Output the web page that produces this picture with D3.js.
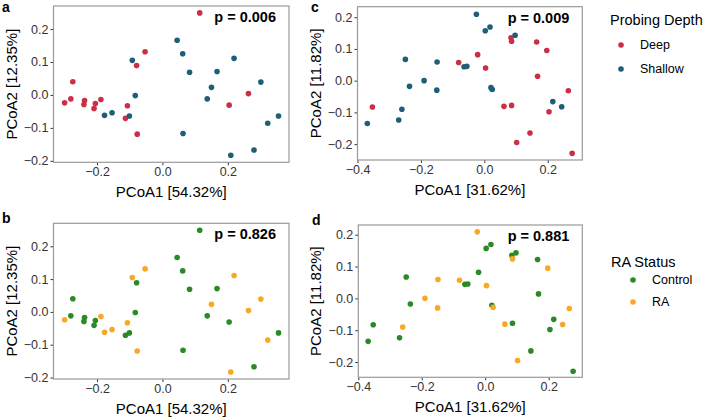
<!DOCTYPE html>
<html>
<head>
<meta charset="utf-8">
<script src="https://cdn.jsdelivr.net/npm/d3@7"></script>
<style>
  body { margin: 0; background: #fff; }
  svg { display: block; font-family: "Liberation Sans", Arial, sans-serif; }
</style>
</head>
<body>
<div id="chart"></div>
<script>
// PCoA ordination 1 (panels a, b)
const pcoa1X = [0.114, -0.053, -0.079, -0.274, -0.299, -0.280, -0.238, -0.240, -0.205, -0.209, -0.188, -0.107, -0.113, -0.077, 0.204, 0.263,
                0.045, 0.062, 0.083, -0.092, -0.083, -0.177, -0.154, -0.101, 0.063, 0.167, 0.219, 0.150, 0.137, 0.209, 0.280, 0.301, 0.322, 0.355];
const pcoa1Y = [0.249, 0.131, 0.089, 0.040, -0.024, -0.012, -0.017, -0.029, -0.026, -0.041, -0.014, -0.033, -0.071, -0.119, -0.031, 0.004,
                0.166, 0.125, 0.069, 0.105, -0.002, -0.062, -0.054, -0.064, -0.117, 0.071, 0.111, 0.023, -0.012, -0.183, -0.167, 0.039, -0.086, -0.064];
const depth1 = ["Deep", "Deep", "Deep", "Deep", "Deep", "Deep", "Deep", "Deep", "Deep", "Deep", "Deep", "Deep", "Deep", "Deep", "Deep", "Deep",
                "Shallow", "Shallow", "Shallow", "Shallow", "Shallow", "Shallow", "Shallow", "Shallow", "Shallow", "Shallow", "Shallow", "Shallow", "Shallow", "Shallow", "Shallow", "Shallow", "Shallow", "Shallow"];
const ra1 = ["Control", "RA", "Control", "Control", "RA", "Control", "Control", "Control", "Control", "Control", "RA", "RA", "Control", "RA", "Control", "RA",
             "Control", "Control", "Control", "RA", "Control", "RA", "RA", "Control", "Control", "Control", "RA", "RA", "Control", "RA", "Control", "RA", "RA", "Control"];

// PCoA ordination 2 (panels c, d)
const pcoa2X = [-0.353, -0.021, -0.081, 0.004, 0.084, 0.086, 0.165, 0.197, 0.168, 0.265, 0.062, 0.086, 0.204, 0.102, 0.144, 0.277,
                -0.025, 0.003, 0.018, -0.064, -0.055, -0.249, -0.149, -0.190, -0.236, -0.150, 0.021, 0.025, -0.260, -0.270, -0.369, 0.097, 0.216, 0.244];
const pcoa2Y = [-0.083, 0.082, 0.057, 0.040, 0.135, 0.124, 0.122, 0.095, 0.014, -0.032, -0.081, -0.078, -0.098, -0.195, -0.165, -0.229,
                0.209, 0.157, 0.169, 0.044, 0.045, 0.067, 0.059, 0.000, -0.018, -0.030, -0.022, -0.028, -0.090, -0.124, -0.135, 0.143, -0.066, -0.082];
const depth2 = depth1.slice();
const ra2 = ["Control", "Control", "RA", "RA", "Control", "RA", "Control", "RA", "Control", "RA", "RA", "Control", "Control", "RA", "Control", "Control",
             "RA", "Control", "Control", "Control", "Control", "Control", "RA", "RA", "Control", "RA", "Control", "RA", "RA", "Control", "Control", "Control", "Control", "RA"];

const depthGroups = ["Deep", "Shallow"];
const raGroups = ["Control", "RA"];
const pValues = ["p = 0.006", "p = 0.826", "p = 0.009", "p = 0.881"];
const xTitles = ["PCoA1 [54.32%]", "PCoA1 [31.62%]"];
const yTitles = ["PCoA2 [12.35%]", "PCoA2 [11.82%]"];
const xTicks1 = [-0.2, 0.0, 0.2];
const xTicks2 = [-0.4, -0.2, 0.0, 0.2];
const yTicks = [-0.2, -0.1, 0.0, 0.1, 0.2];

const depthColor = d3.scaleOrdinal().domain(depthGroups).range(["#CC2F45", "#1F5E77"]);
const raColor = d3.scaleOrdinal().domain(raGroups).range(["#2A8A26", "#F8A826"]);

const width = 708, height = 420;
const svg = d3.select("#chart").append("svg")
    .attr("width", width)
    .attr("height", height);

const fmt = v => d3.format(".1f")(v).replace("-", "\u2212");

function drawPanel(cfg) {
    const x = d3.scaleLinear().domain(cfg.xDomain).range([cfg.left, cfg.right]);
    const y = d3.scaleLinear().domain(cfg.yDomain).range([cfg.bottom, cfg.top]);
    const g = svg.append("g");

    // Achsen
    g.append("g")
        .attr("transform", `translate(0,${cfg.bottom})`)
        .call(d3.axisBottom(x).tickValues(cfg.xTicks).tickFormat(fmt).tickSize(3).tickPadding(2))
        .call(a => a.select(".domain").remove())
        .call(a => a.selectAll("line").attr("stroke", "#333"))
        .call(a => a.selectAll("text").attr("fill", "#333").style("font-size", "12.5px"));

    g.append("g")
        .attr("transform", `translate(${cfg.left},0)`)
        .call(d3.axisLeft(y).tickValues(yTicks).tickFormat(fmt).tickSize(3).tickPadding(2))
        .call(a => a.select(".domain").remove())
        .call(a => a.selectAll("line").attr("stroke", "#333"))
        .call(a => a.selectAll("text").attr("fill", "#333").style("font-size", "12.5px"));

    // Rahmen
    g.append("rect")
        .attr("x", cfg.left)
        .attr("y", cfg.top)
        .attr("width", cfg.right - cfg.left)
        .attr("height", cfg.bottom - cfg.top)
        .attr("fill", "none")
        .attr("stroke", "#999")
        .attr("stroke-width", 1.2);

    // Punkte
    g.selectAll("circle")
        .data(cfg.xs.map((v, i) => ({x: v, y: cfg.ys[i], grp: cfg.groups[i]})))
        .join("circle")
        .attr("cx", d => x(d.x))
        .attr("cy", d => y(d.y))
        .attr("r", 2.8)
        .attr("fill", d => cfg.color(d.grp));

    // p-Wert
    g.append("text")
        .attr("x", cfg.right - 13)
        .attr("y", cfg.top + 16)
        .attr("text-anchor", "end")
        .style("font-size", "14.5px")
        .style("font-weight", "bold")
        .text(cfg.p);

    // Achsentitel
    g.append("text")
        .attr("x", (cfg.left + cfg.right) / 2)
        .attr("y", cfg.bottom + 35)
        .attr("text-anchor", "middle")
        .style("font-size", "15px")
        .text(cfg.xTitle);

    g.append("text")
        .attr("transform", `translate(${cfg.left - 37},${(cfg.top + cfg.bottom) / 2}) rotate(-90)`)
        .attr("text-anchor", "middle")
        .style("font-size", "15px")
        .text(cfg.yTitle);

    // Panel-Buchstabe
    svg.append("text")
        .attr("x", cfg.labelX)
        .attr("y", cfg.labelY)
        .style("font-size", "14px")
        .style("font-weight", "bold")
        .text(cfg.label);
}

drawPanel({label: "a", labelX: 2, labelY: 12, left: 53.5, right: 289, top: 6, bottom: 162.3,
    xDomain: [-0.333, 0.387], yDomain: [-0.2045, 0.27], xTicks: xTicks1,
    xs: pcoa1X, ys: pcoa1Y, groups: depth1, color: depthColor, p: pValues[0],
    xTitle: xTitles[0], yTitle: yTitles[0]});

drawPanel({label: "b", labelX: 2, labelY: 223, left: 53.5, right: 289, top: 223.3, bottom: 379,
    xDomain: [-0.333, 0.387], yDomain: [-0.2045, 0.27], xTicks: xTicks1,
    xs: pcoa1X, ys: pcoa1Y, groups: ra1, color: raColor, p: pValues[1],
    xTitle: xTitles[0], yTitle: yTitles[0]});

drawPanel({label: "c", labelX: 311, labelY: 12, left: 357.5, right: 582.3, top: 6.7, bottom: 160,
    xDomain: [-0.4, 0.309], yDomain: [-0.25, 0.233], xTicks: xTicks2,
    xs: pcoa2X, ys: pcoa2Y, groups: depth2, color: depthColor, p: pValues[2],
    xTitle: xTitles[1], yTitle: yTitles[1]});

drawPanel({label: "d", labelX: 312, labelY: 225, left: 358.3, right: 582.3, top: 225, bottom: 377.3,
    xDomain: [-0.4, 0.306], yDomain: [-0.248, 0.2305], xTicks: xTicks2,
    xs: pcoa2X, ys: pcoa2Y, groups: ra2, color: raColor, p: pValues[3],
    xTitle: xTitles[1], yTitle: yTitles[1]});

// Legenden
function drawLegend(title, groups, color, tx, ty, dotX, itemY, step) {
    const lg = svg.append("g");
    lg.append("text")
        .attr("x", tx)
        .attr("y", ty)
        .style("font-size", "14.5px")
        .text(title);
    const items = lg.selectAll(".item")
        .data(groups)
        .join("g")
        .attr("class", "item")
        .attr("transform", (d, i) => `translate(${dotX},${itemY + i * step})`);
    items.append("circle")
        .attr("r", 2.8)
        .attr("fill", d => color(d));
    items.append("text")
        .attr("x", 19)
        .attr("dy", "0.35em")
        .style("font-size", "12.5px")
        .text(d => d);
}

drawLegend("Probing Depth", depthGroups, depthColor, 610, 25, 621, 45, 24);
drawLegend("RA Status", raGroups, raColor, 611, 267, 633, 280, 22);
</script>
</body>
</html>
